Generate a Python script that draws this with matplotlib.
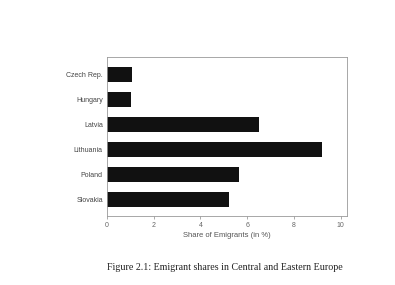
import matplotlib
matplotlib.use('Agg')
from matplotlib import pyplot as plt

countries = ['Czech Rep.', 'Hungary', 'Latvia', 'Lithuania', 'Poland', 'Slovakia']
shares = [1.07, 1.02, 6.5, 9.2, 5.66, 5.2]
xticks = [0, 2, 4, 6, 8, 10]

W, H = 395, 285
fig = plt.figure(figsize=(W / 100, H / 100), dpi=100)
ax = fig.add_axes([107 / W, 1 - 216 / H, 240 / W, (216 - 57) / H])

pos = list(range(len(countries)))
ax.barh(pos, shares, height=0.6, color='#111111')
ax.set_ylim(5.68, -0.7)
ax.set_xlim(0, 10.27)
ax.set_yticks(pos)
ax.set_yticklabels(countries)
ax.set_xticks(xticks)
ax.tick_params(axis='y', length=0, pad=3, labelsize=5, labelcolor='#444444')
ax.tick_params(axis='x', length=2.5, width=0.5, color='#888888', pad=2,
               labelsize=5, labelcolor='#666666')
for lab in ax.get_xticklabels() + ax.get_yticklabels():
    lab.set_family('Liberation Sans')
for s in ax.spines.values():
    s.set_color('#999999')
    s.set_linewidth(0.6)
ax.set_xlabel('Share of Emigrants (in %)', fontsize=5.5, color='#555555',
              family='Liberation Sans', labelpad=2)

fig.text(225 / W, 1 - 268 / H, 'Figure 2.1: Emigrant shares in Central and Eastern Europe',
         ha='center', va='center', fontsize=7.2, family='Liberation Serif', color='#222222')

fig.savefig('out.png', dpi=100)
